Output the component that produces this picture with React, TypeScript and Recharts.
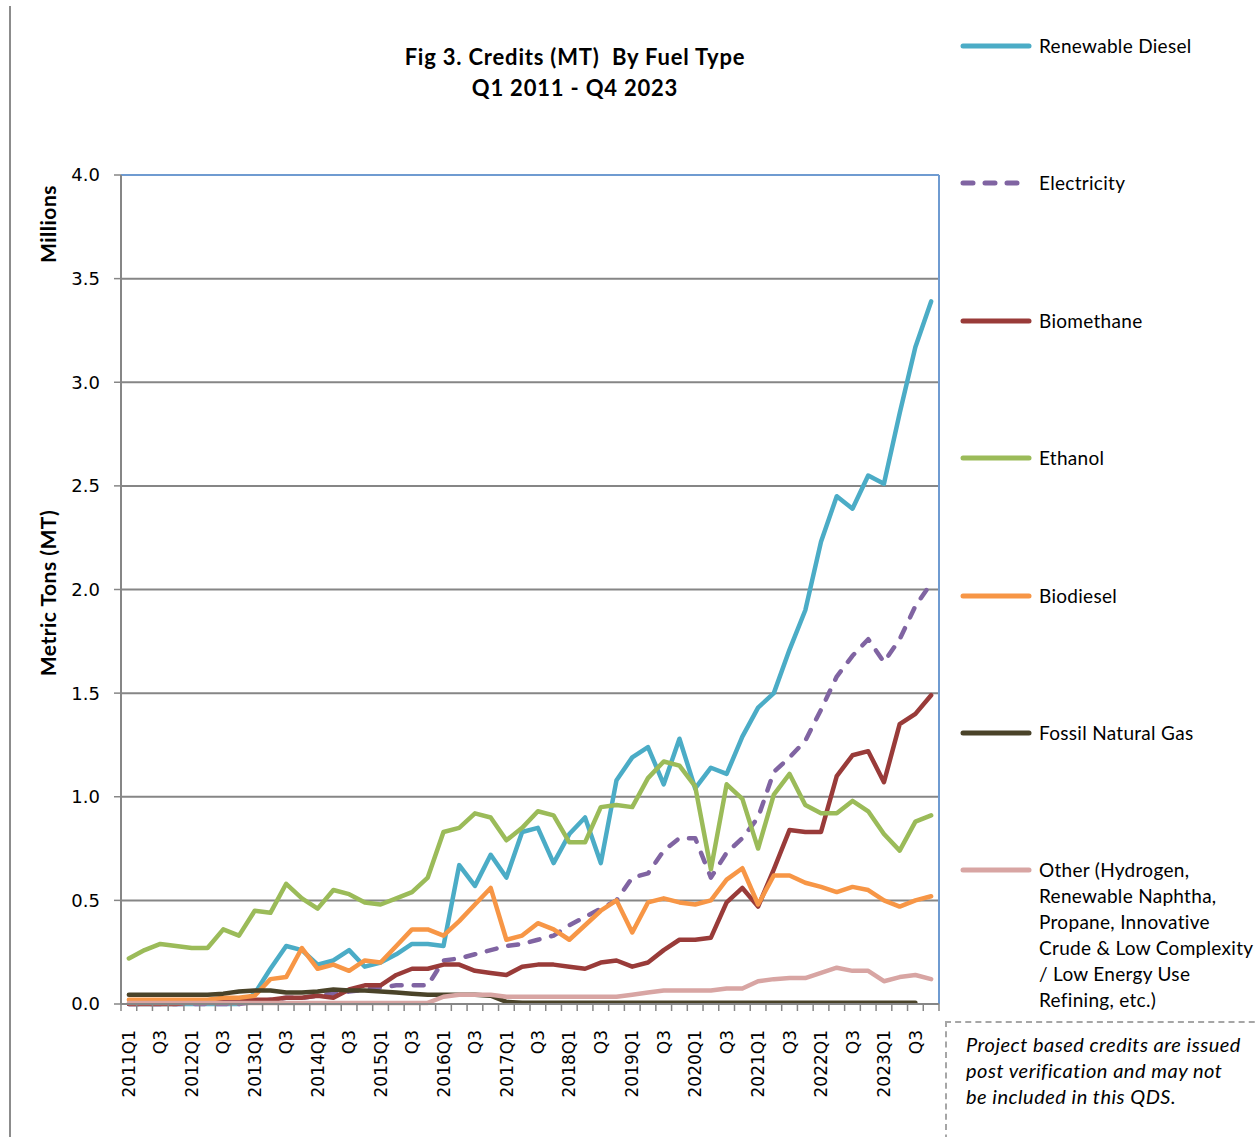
import { LineChart, Line, XAxis, YAxis, CartesianGrid, ReferenceLine } from 'recharts';

// ─── Categories & ticks ───────────────────────────────────────────────────────
const YEARS = [2011, 2012, 2013, 2014, 2015, 2016, 2017, 2018, 2019, 2020, 2021, 2022, 2023];
const QUARTERS = YEARS.flatMap(y => [1, 2, 3, 4].map(q => `${y}Q${q}`));

const TICK_LABELS = [
  '2011Q1', 'Q3', '2012Q1', 'Q3', '2013Q1', 'Q3', '2014Q1', 'Q3', '2015Q1', 'Q3',
  '2016Q1', 'Q3', '2017Q1', 'Q3', '2018Q1', 'Q3', '2019Q1', 'Q3', '2020Q1', 'Q3',
  '2021Q1', 'Q3', '2022Q1', 'Q3', '2023Q1', 'Q3',
];
const Y_TICKS = [0, 0.5, 1, 1.5, 2, 2.5, 3, 3.5, 4];

// ─── Series values (millions of MT) ───────────────────────────────────────────
const RENEWABLE_DIESEL = [
  0, 0, 0, 0, 0, 0, 0, 0, 0.05, 0.17, 0.28, 0.26, 0.19, 0.21, 0.26, 0.18, 0.20, 0.24, 0.29, 0.29,
  0.28, 0.67, 0.57, 0.72, 0.61, 0.83, 0.85, 0.68, 0.82, 0.90, 0.68, 1.08, 1.19, 1.24, 1.06, 1.28,
  1.04, 1.14, 1.11, 1.29, 1.43, 1.50, 1.71, 1.90, 2.23, 2.45, 2.39, 2.55, 2.51, 2.85, 3.17, 3.39,
];
const ELECTRICITY = [
  0, 0, 0, 0, 0, 0, 0, 0, 0.01, 0.02, 0.03, 0.03, 0.04, 0.05, 0.06, 0.07, 0.08, 0.09, 0.09, 0.09,
  0.21, 0.22, 0.24, 0.26, 0.28, 0.29, 0.31, 0.33, 0.38, 0.42, 0.46, 0.50, 0.61, 0.63, 0.74, 0.80,
  0.80, 0.61, 0.73, 0.80, 0.90, 1.12, 1.19, 1.27, 1.42, 1.58, 1.68, 1.76, 1.65, 1.76, 1.92, 2.03,
];
const BIOMETHANE = [
  0, 0, 0, 0, 0.01, 0.01, 0.02, 0.02, 0.02, 0.02, 0.03, 0.03, 0.04, 0.03, 0.07, 0.09, 0.09, 0.14, 0.17, 0.17,
  0.19, 0.19, 0.16, 0.15, 0.14, 0.18, 0.19, 0.19, 0.18, 0.17, 0.20, 0.21, 0.18, 0.20, 0.26, 0.31,
  0.31, 0.32, 0.49, 0.56, 0.47, 0.65, 0.84, 0.83, 0.83, 1.10, 1.20, 1.22, 1.07, 1.35, 1.40, 1.49,
];
const ETHANOL = [
  0.22, 0.26, 0.29, 0.28, 0.27, 0.27, 0.36, 0.33, 0.45, 0.44, 0.58, 0.51, 0.46, 0.55, 0.53, 0.49, 0.48, 0.51, 0.54, 0.61,
  0.83, 0.85, 0.92, 0.90, 0.79, 0.85, 0.93, 0.91, 0.78, 0.78, 0.95, 0.96, 0.95, 1.09, 1.17, 1.15,
  1.05, 0.65, 1.06, 0.99, 0.75, 1.01, 1.11, 0.96, 0.92, 0.92, 0.98, 0.93, 0.82, 0.74, 0.88, 0.91,
];
const BIODIESEL = [
  0.02, 0.02, 0.02, 0.02, 0.02, 0.02, 0.03, 0.03, 0.04, 0.12, 0.13, 0.27, 0.17, 0.19, 0.16, 0.21, 0.20, 0.28, 0.36, 0.36,
  0.33, 0.40, 0.48, 0.56, 0.31, 0.33, 0.39, 0.36, 0.31, 0.38, 0.45, 0.50, 0.345, 0.49, 0.51, 0.49,
  0.48, 0.50, 0.60, 0.655, 0.48, 0.62, 0.62, 0.585, 0.565, 0.54, 0.565, 0.55, 0.50, 0.47, 0.50, 0.52,
];
const FOSSIL_NATURAL_GAS = [
  0.045, 0.045, 0.045, 0.045, 0.045, 0.045, 0.05, 0.06, 0.065, 0.065, 0.055, 0.055, 0.06, 0.07, 0.065, 0.065, 0.06, 0.055, 0.05, 0.045,
  0.045, 0.045, 0.045, 0.04, 0.01, 0.006, 0.006, 0.006, 0.006, 0.006, 0.006, 0.006, 0.006, 0.006, 0.006, 0.006,
  0.006, 0.006, 0.006, 0.006, 0.006, 0.006, 0.006, 0.006, 0.006, 0.006, 0.006, 0.006, 0.006, 0.006, 0.006, null,
];
const OTHER = [
  0.005, 0.005, 0.005, 0.005, 0.005, 0.005, 0.005, 0.005, 0.005, 0.005, 0.005, 0.005, 0.005, 0.005, 0.005, 0.005, 0.005, 0.005, 0.005, 0.005,
  0.035, 0.045, 0.045, 0.045, 0.035, 0.035, 0.035, 0.035, 0.035, 0.035, 0.035, 0.035, 0.045, 0.055, 0.065, 0.065,
  0.065, 0.065, 0.075, 0.075, 0.11, 0.12, 0.125, 0.125, 0.15, 0.175, 0.16, 0.16, 0.11, 0.13, 0.14, 0.12,
];

const SERIES = [
  { key: 'rd', name: 'Renewable Diesel', values: RENEWABLE_DIESEL, color: '#4BACC6' },
  { key: 'elec', name: 'Electricity', values: ELECTRICITY, color: '#8064A2', dashed: true },
  { key: 'bm', name: 'Biomethane', values: BIOMETHANE, color: '#993B39' },
  { key: 'eth', name: 'Ethanol', values: ETHANOL, color: '#9BBB59' },
  { key: 'bd', name: 'Biodiesel', values: BIODIESEL, color: '#F79646' },
  { key: 'fng', name: 'Fossil Natural Gas', values: FOSSIL_NATURAL_GAS, color: '#4A4329' },
  {
    key: 'oth',
    name: 'Other (Hydrogen, Renewable Naphtha, Propane, Innovative Crude & Low Complexity / Low Energy Use Refining, etc.)',
    lines: ['Other (Hydrogen,', 'Renewable Naphtha,', 'Propane, Innovative', 'Crude & Low Complexity', '/ Low Energy Use', 'Refining, etc.)'],
    values: OTHER,
    color: '#D8A5A3',
  },
];

const data = QUARTERS.map((q, i) => {
  const row: Record<string, number | string | null> = { idx: i, quarter: q };
  SERIES.forEach(s => { row[s.key] = s.values[i]; });
  return row;
});

// tick marks sit on category boundaries, labels on every other category
const X_TICKS = [
  ...QUARTERS.map((_, i) => i - 0.5),
  QUARTERS.length - 0.5,
  ...TICK_LABELS.map((_, i) => i * 2),
].sort((a, b) => a - b);

const AXIS = '#868686';
const BORDER = '#6F9BD1';
const LABEL_FONT = 'Lato, "Open Sans", sans-serif';
const TICK_FONT = '"DejaVu Sans", sans-serif';

function QuarterTick({ x, y, payload }: any) {
  const v = payload.value;
  if (!Number.isInteger(v)) {
    return <line x1={x} y1={y} x2={x} y2={y + 7} stroke={AXIS} strokeWidth={1.5} />;
  }
  return (
    <text
      transform={`translate(${x},${y + 26}) rotate(-90)`}
      textAnchor="end"
      dy="0.36em"
      fontSize={17}
      fontFamily={TICK_FONT}
      fill="#000"
    >
      {TICK_LABELS[v / 2]}
    </text>
  );
}

export default function App() {
  return (
    <div style={{ position: 'absolute', left: 0, top: 0, width: 1257, height: 1137, overflow: 'hidden', background: '#fff' }}>
      <div style={{ position: 'absolute', left: 9, top: 6, width: 2, height: 1131, background: '#8c8c8c' }} />

      <div style={{ position: 'absolute', left: 340, width: 470, top: 41, textAlign: 'center', fontFamily: LABEL_FONT, fontWeight: 700, fontSize: 22, letterSpacing: 0.8, lineHeight: '31px', color: '#000' }}>
        <div>Fig 3. Credits (MT)&nbsp; By Fuel Type</div>
        <div>Q1 2011 - Q4 2023</div>
      </div>

      <LineChart width={1257} height={1137} data={data} margin={{ top: 175, right: 318, bottom: 13, left: 41 }}>
        <CartesianGrid vertical={false} stroke={AXIS} strokeWidth={2} />
        <XAxis
          dataKey="idx"
          type="number"
          domain={[-0.5, QUARTERS.length - 0.5]}
          ticks={X_TICKS}
          interval={0}
          height={120}
          tickSize={0}
          tickMargin={0}
          tickLine={false}
          axisLine={{ stroke: AXIS, strokeWidth: 2 }}
          tick={<QuarterTick />}
        />
        <YAxis
          width={80}
          domain={[0, 4]}
          ticks={Y_TICKS}
          interval={0}
          tickFormatter={(v: number) => v.toFixed(1)}
          tick={{ fontSize: 18, fill: '#000', fontFamily: TICK_FONT }}
          tickSize={7}
          tickMargin={14}
          tickLine={{ stroke: AXIS, strokeWidth: 1.5 }}
          axisLine={{ stroke: AXIS, strokeWidth: 2 }}
        />
        <ReferenceLine y={4} stroke={BORDER} strokeWidth={2} />
        <ReferenceLine x={QUARTERS.length - 0.5} stroke={BORDER} strokeWidth={2} />
        {SERIES.map(s => (
          <Line
            key={s.key}
            dataKey={s.key}
            name={s.name}
            type="linear"
            stroke={s.color}
            strokeWidth={4.5}
            strokeDasharray={s.dashed ? '10 12' : undefined}
            strokeLinecap="round"
            strokeLinejoin="round"
            dot={false}
            activeDot={false}
            isAnimationActive={false}
          />
        ))}
      </LineChart>

      <div style={{ position: 'absolute', left: 47, top: 593, transform: 'translate(-50%,-50%) rotate(-90deg)', whiteSpace: 'nowrap', fontFamily: LABEL_FONT, fontWeight: 700, fontSize: 21, letterSpacing: 0.5 }}>
        Metric Tons (MT)
      </div>
      <div style={{ position: 'absolute', left: 47, top: 224, transform: 'translate(-50%,-50%) rotate(-90deg)', whiteSpace: 'nowrap', fontFamily: LABEL_FONT, fontWeight: 700, fontSize: 21, letterSpacing: 0.5 }}>
        Millions
      </div>

      {SERIES.map((s, i) => (
        <div key={s.key} style={{ position: 'absolute', left: 960, top: 33 + i * 137.4, fontFamily: LABEL_FONT, fontSize: 19, letterSpacing: 0.3, lineHeight: '26px', color: '#000' }}>
          <svg width={72} height={10} style={{ position: 'absolute', left: 0, top: 8 }}>
            <line x1={3} y1={5} x2={69} y2={5} stroke={s.color} strokeWidth={5} strokeLinecap="round" strokeDasharray={s.dashed ? '10 12' : undefined} />
          </svg>
          <div style={{ marginLeft: 79, whiteSpace: 'nowrap' }}>
            {(s.lines ?? [s.name]).map(l => <div key={l}>{l}</div>)}
          </div>
        </div>
      ))}

      <div style={{ position: 'absolute', left: 945, top: 1021, width: 330, height: 140, border: '2px dashed #a6a6a6', boxSizing: 'border-box', padding: '8px 0 0 19px', fontFamily: LABEL_FONT, fontStyle: 'italic', fontSize: 20, letterSpacing: 0.5, lineHeight: '26px', color: '#000' }}>
        <div>Project based credits are issued</div>
        <div>post verification and may not</div>
        <div>be included in this QDS.</div>
      </div>
    </div>
  );
}
